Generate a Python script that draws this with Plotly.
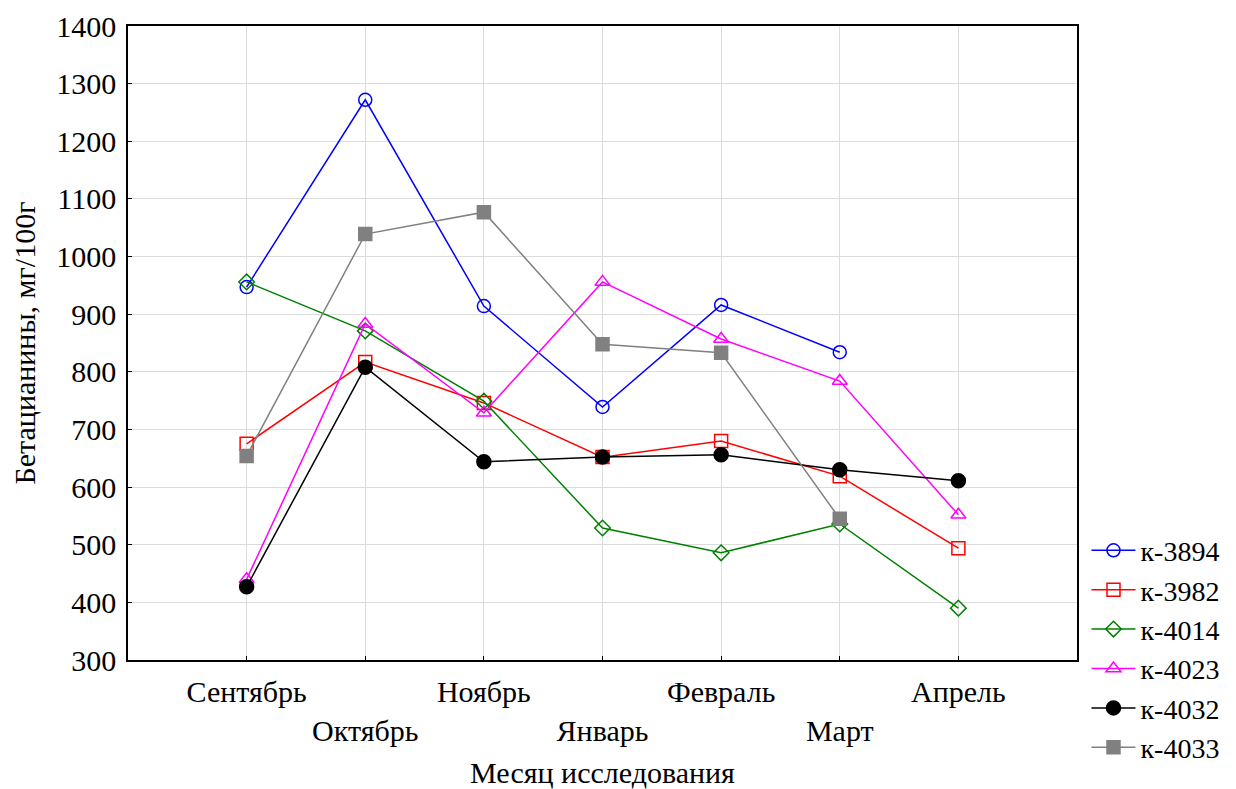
import plotly.graph_objects as go

months = ["Сентябрь", "Октябрь", "Ноябрь", "Январь", "Февраль", "Март", "Апрель"]
month_labels = ["Сентябрь", "<br>Октябрь", "Ноябрь", "<br>Январь", "Февраль", "<br>Март", "Апрель"]

k3894 = [947, 1272, 914, 739, 916, 834, None]
k3982 = [675, 817, 746, 652, 680, 619, 494]
k4014 = [956, 871, 749, 529, 486, 536, 390]
k4023 = [440, 883, 729, 956, 857, 784, 552]
k4032 = [427, 808, 644, 652, 656, 630, 611]
k4033 = [654, 1039, 1077, 848, 833, 545, None]

series = [
    ("к-3894", k3894, "#0000ff", "circle-open", 13),
    ("к-3982", k3982, "#ff0000", "square-open", 13),
    ("к-4014", k4014, "#008000", "diamond-open", 12),
    ("к-4023", k4023, "#ff00ff", "triangle-up-open", 13),
    ("к-4032", k4032, "#000000", "circle", 14),
    ("к-4033", k4033, "#808080", "square", 13),
]

xs = list(range(len(months)))
fig = go.Figure()
for name, vals, color, sym, size in series:
    fig.add_trace(go.Scatter(
        x=xs, y=vals, name=name, mode="lines+markers",
        line=dict(color=color, width=1.5),
        marker=dict(symbol=sym, size=size, color=color, line=dict(color=color, width=1.5)),
    ))

font = "Liberation Serif, Times New Roman, serif"
fig.update_layout(
    width=1236, height=789,
    margin=dict(l=128, r=159, t=26, b=129, autoexpand=False),
    paper_bgcolor="white", plot_bgcolor="white",
    font=dict(family=font, size=30, color="black"),
    showlegend=True,
    legend=dict(x=1.01, y=0.212, xanchor="left", yanchor="top",
                font=dict(size=28), tracegroupgap=0, itemwidth=44,
                bgcolor="rgba(0,0,0,0)"),
    xaxis=dict(
        range=[-1, 7], tickmode="array", tickvals=xs, ticktext=month_labels,
        showgrid=True, gridcolor="#dcdcdc", gridwidth=1,
        showline=True, linecolor="black", linewidth=1.5, mirror=True,
        ticks="inside", ticklen=4, tickcolor="black",
        zeroline=False, ticklabelstandoff=4, automargin=False,
        title=dict(text="Месяц исследования", font=dict(size=30), standoff=20),
    ),
    yaxis=dict(
        range=[300, 1400], tickmode="array", tickvals=list(range(300, 1401, 100)),
        showgrid=True, gridcolor="#dcdcdc", gridwidth=1,
        showline=True, linecolor="black", linewidth=1.5, mirror=True,
        ticks="inside", ticklen=4, tickcolor="black",
        zeroline=False, ticklabelstandoff=4, automargin=False,
        title=dict(text="Бетацианины, мг/100г", font=dict(size=30), standoff=12),
    ),
)

fig.write_html("out.html")
